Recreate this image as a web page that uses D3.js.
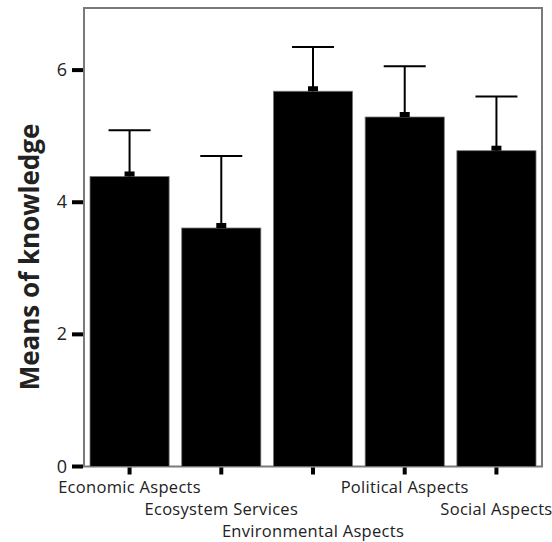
<!DOCTYPE html>
<html>
<head>
<meta charset="utf-8">
<script src="https://cdn.jsdelivr.net/npm/d3@7/dist/d3.min.js"></script>
<style>
  html, body { margin: 0; padding: 0; background: #fff; }
  svg { display: block; }
  .lbl { font-family: "Open Sans", "Noto Sans", sans-serif; fill: #222; }
</style>
</head>
<body>
<svg id="chart" width="552" height="542"></svg>
<script>
// Mean knowledge score per topic, with upper error-bar limit
const categories = ["Economic Aspects", "Ecosystem Services", "Environmental Aspects", "Political Aspects", "Social Aspects"];
const means = [4.39, 3.61, 5.68, 5.29, 4.78];
const upper = [5.09, 4.70, 6.35, 6.06, 5.60];
const yTicks = [0, 2, 4, 6];

const svg = d3.select("#chart");
const frame = { left: 84, right: 542, top: 8, bottom: 466.5 };

const x = d3.scaleBand()
  .domain(categories)
  .range([frame.left, frame.right])
  .paddingInner(0.1375)
  .paddingOuter(0.0655);

const y = d3.scaleLinear()
  .domain([0, 6.94])
  .range([frame.bottom, frame.top]);

// plot frame
svg.append("rect")
  .attr("x", frame.left).attr("y", frame.top)
  .attr("width", frame.right - frame.left)
  .attr("height", frame.bottom - frame.top)
  .attr("fill", "none").attr("stroke", "#7a7a7a").attr("stroke-width", 2);

// bars
svg.append("g").selectAll("rect")
  .data(categories)
  .join("rect")
  .attr("x", d => x(d))
  .attr("y", (d, i) => y(means[i]))
  .attr("width", x.bandwidth())
  .attr("height", (d, i) => y(0) - y(means[i]))
  .attr("fill", "#000")
  .attr("stroke", "#777").attr("stroke-width", 0.8);

// error bars with mean markers
const err = svg.append("g");
categories.forEach((c, i) => {
  const cx = x(c) + x.bandwidth() / 2;
  err.append("line")
    .attr("x1", cx).attr("x2", cx)
    .attr("y1", y(means[i])).attr("y2", y(upper[i]))
    .attr("stroke", "#000").attr("stroke-width", 2);
  err.append("line")
    .attr("x1", cx - 21).attr("x2", cx + 21)
    .attr("y1", y(upper[i])).attr("y2", y(upper[i]))
    .attr("stroke", "#000").attr("stroke-width", 2);
  err.append("rect")
    .attr("x", cx - 5).attr("y", y(means[i]) - 5)
    .attr("width", 10).attr("height", 5)
    .attr("fill", "#000");
});

// y axis ticks and labels
const yAxis = svg.append("g");
yTicks.forEach(t => {
  yAxis.append("rect")
    .attr("x", 72).attr("y", y(t) - 2)
    .attr("width", 11).attr("height", 4)
    .attr("fill", "#000");
  yAxis.append("text")
    .attr("class", "lbl")
    .attr("x", 67).attr("y", y(t) + 6)
    .attr("text-anchor", "end")
    .attr("font-size", 18)
    .text(t);
});

// x axis ticks and staggered labels
const xAxis = svg.append("g");
categories.forEach((c, i) => {
  const cx = x(c) + x.bandwidth() / 2;
  xAxis.append("rect")
    .attr("x", cx - 2).attr("y", frame.bottom + 1)
    .attr("width", 4).attr("height", 7)
    .attr("fill", "#000");
  xAxis.append("text")
    .attr("class", "lbl")
    .attr("x", cx).attr("y", 493 + (i % 3) * 22)
    .attr("text-anchor", "middle")
    .attr("font-size", 16.5)
    .attr("letter-spacing", 0.3)
    .text(c);
});

// y axis title
svg.append("text")
  .attr("class", "lbl")
  .attr("transform", "translate(39,257) rotate(-90)")
  .attr("text-anchor", "middle")
  .attr("font-size", 26)
  .attr("font-weight", "bold")
  .attr("fill", "#000")
  .text("Means of knowledge");
</script>
</body>
</html>
